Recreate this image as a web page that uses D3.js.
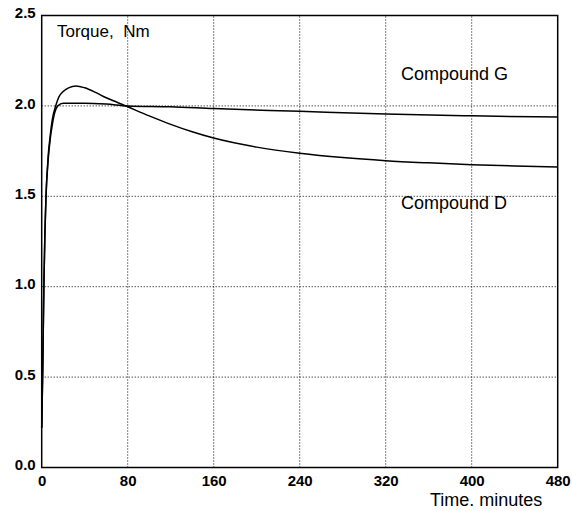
<!DOCTYPE html>
<html>
<head>
<meta charset="utf-8">
<script src="https://cdn.jsdelivr.net/npm/d3@7"></script>
<style>
  body { margin: 0; background: #fff; }
  svg { display: block; font-family: "Liberation Sans", Arial, sans-serif; }
  .tick text { font-weight: bold; font-size: 15px; fill: #000; }
  .grid line { stroke: #000; stroke-width: 1; stroke-dasharray: 1,2; }
  .label { font-size: 18px; fill: #000; }
</style>
</head>
<body>
<svg id="chart" width="572" height="511"></svg>
<script>
// time (minutes) / torque (Nm)
var timeTicks = [0, 80, 160, 240, 320, 400, 480];
var torqueTicks = [0, 0.5, 1.0, 1.5, 2.0, 2.5];

var compoundG = [
  [0, 0.22], [1, 0.55], [2, 1.0], [3, 1.3], [4, 1.5], [6, 1.7], [8, 1.82],
  [10, 1.9], [12, 1.96], [15, 2.0], [20, 2.015], [40, 2.015], [60, 2.01],
  [80, 2.0], [120, 1.995], [160, 1.985], [240, 1.97], [320, 1.955],
  [400, 1.945], [480, 1.938]
];
var compoundD = [
  [0, 0.22], [1, 0.55], [2, 1.0], [3, 1.3], [4, 1.5], [6, 1.72], [8, 1.84],
  [10, 1.93], [13, 2.0], [16, 2.05], [20, 2.08], [25, 2.1], [32, 2.11],
  [40, 2.1], [50, 2.075], [60, 2.045], [70, 2.02], [80, 1.995], [100, 1.945],
  [120, 1.898], [140, 1.857], [160, 1.822], [200, 1.772], [240, 1.738],
  [280, 1.714], [320, 1.697], [360, 1.685], [400, 1.675], [440, 1.668],
  [480, 1.662]
];

var svg = d3.select("#chart");

var x = d3.scaleLinear().domain([0, 480]).range([41.7, 557.7]);
var y = d3.scaleLinear().domain([0, 2.5]).range([467.5, 15.5]);

// dotted grid
var grid = svg.append("g").attr("class", "grid");
grid.selectAll(".vx")
  .data(timeTicks.slice(1, -1))
  .join("line")
  .attr("x1", d => x(d)).attr("x2", d => x(d))
  .attr("y1", y(0)).attr("y2", y(2.5));
grid.selectAll(".hy")
  .data(torqueTicks.slice(1, -1))
  .join("line")
  .attr("y1", d => y(d)).attr("y2", d => y(d))
  .attr("x1", x(0)).attr("x2", x(480));

// frame
svg.append("rect")
  .attr("x", x(0)).attr("y", y(2.5))
  .attr("width", x(480) - x(0)).attr("height", y(0) - y(2.5))
  .attr("fill", "none").attr("stroke", "#000").attr("stroke-width", 1.5);

// axes (labels only)
var xAxis = svg.append("g")
  .attr("transform", "translate(0," + y(0) + ")")
  .call(d3.axisBottom(x).tickValues(timeTicks).tickSize(0).tickPadding(8).tickFormat(d3.format("d")));
xAxis.select(".domain").remove();
xAxis.selectAll("text").attr("dy", "0.71em");

var yAxis = svg.append("g")
  .attr("transform", "translate(" + x(0) + ",0)")
  .call(d3.axisLeft(y).tickValues(torqueTicks).tickSize(0).tickPadding(6).tickFormat(d3.format(".1f")));
yAxis.select(".domain").remove();
yAxis.selectAll("text").attr("dy", "0.15em");

// curves
var line = d3.line()
  .x(d => x(d[0]))
  .y(d => y(d[1]))
  .curve(d3.curveMonotoneX);

[compoundG, compoundD].forEach(function (s) {
  svg.append("path")
    .datum(s)
    .attr("d", line)
    .attr("fill", "none")
    .attr("stroke", "#000")
    .attr("stroke-width", 1.5);
});

// text labels
svg.append("text").attr("class", "label")
  .attr("x", 57).attr("y", 37).style("font-size", "17px")
  .attr("xml:space", "preserve")
  .text("Torque,  Nm");
svg.append("text").attr("class", "label")
  .attr("x", 401).attr("y", 80)
  .text("Compound G");
svg.append("text").attr("class", "label")
  .attr("x", 401).attr("y", 209)
  .text("Compound D");
svg.append("text").attr("class", "label")
  .attr("x", 430).attr("y", 506)
  .text("Time. minutes");
</script>
</body>
</html>
